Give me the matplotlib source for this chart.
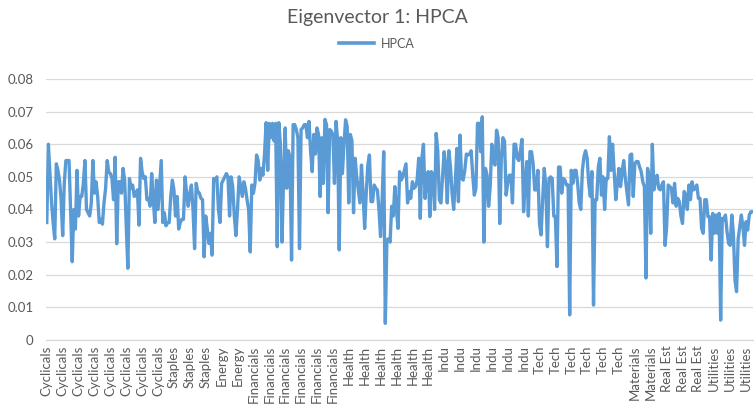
import matplotlib
matplotlib.use("Agg")
import matplotlib.pyplot as plt
from matplotlib.lines import Line2D

plt.rcParams['font.family'] = ['Lato', 'DejaVu Sans']

title = "Eigenvector 1: HPCA"
series_name = "HPCA"

# tick labels shown at every 10th point
tick_labels = (["Cyclicals"] * 8 + ["Staples"] * 3 + ["Energy"] * 2 +
               ["Financials"] * 6 + ["Health"] * 6 + ["Indu"] * 6 +
               ["Tech"] * 6 + ["Materials"] * 2 + ["Real Est"] * 3 +
               ["Utilities"] * 3)
label_step = 10

hpca = [
    # 0-9
    0.036, 0.060, 0.051, 0.042, 0.036, 0.031, 0.054, 0.052, 0.049, 0.043,
    # 10-19
    0.032, 0.048, 0.055, 0.055, 0.055, 0.040, 0.024, 0.040, 0.034, 0.052,
    # 20-29
    0.038, 0.044, 0.044, 0.048, 0.055, 0.040, 0.039, 0.038, 0.042, 0.055,
    # 30-39
    0.045, 0.0485, 0.044, 0.036, 0.037, 0.0355, 0.042, 0.0465, 0.055, 0.0515,
    # 40-49
    0.051, 0.0495, 0.043, 0.056, 0.0295, 0.0485, 0.0485, 0.045, 0.0526, 0.049,
    # 50-59
    0.035, 0.022, 0.0495, 0.0465, 0.0475, 0.044, 0.0444, 0.046, 0.0352, 0.0557,
    # 60-69
    0.0515, 0.0495, 0.050, 0.043, 0.0434, 0.041, 0.051, 0.043, 0.036, 0.049,
    # 70-79
    0.040, 0.0475, 0.055, 0.036, 0.039, 0.035, 0.036, 0.036, 0.044, 0.049,
    # 80-89
    0.046, 0.038, 0.044, 0.034, 0.036, 0.037, 0.037, 0.050, 0.045, 0.041,
    # 90-99
    0.045, 0.0475, 0.040, 0.028, 0.048, 0.0455, 0.045, 0.0434, 0.043, 0.0255,
    # 100-109
    0.038, 0.034, 0.0296, 0.0327, 0.026, 0.0495, 0.049, 0.050, 0.040, 0.036,
    # 110-119
    0.048, 0.049, 0.050, 0.051, 0.050, 0.038, 0.050, 0.047, 0.038, 0.032,
    # 120-129
    0.040, 0.050, 0.047, 0.044, 0.0485, 0.0465, 0.043, 0.040, 0.027, 0.0475,
    # 130-139
    0.045, 0.048, 0.0567, 0.055, 0.049, 0.0526, 0.0505, 0.057, 0.0666, 0.052,
    # 140-149
    0.0664, 0.062, 0.0664, 0.061, 0.0664, 0.0286, 0.0666, 0.060, 0.030, 0.050,
    # 150-159
    0.065, 0.0465, 0.058, 0.056, 0.0245, 0.066, 0.066, 0.0645, 0.062, 0.028,
    # 160-169
    0.0645, 0.065, 0.066, 0.066, 0.062, 0.067, 0.0577, 0.0516, 0.063, 0.057,
    # 170-179
    0.065, 0.063, 0.044, 0.062, 0.048, 0.0676, 0.066, 0.039, 0.0645, 0.064,
    # 180-189
    0.063, 0.048, 0.067, 0.061, 0.0276, 0.062, 0.051, 0.060, 0.0675, 0.0654,
    # 190-199
    0.042, 0.063, 0.061, 0.039, 0.0557, 0.050, 0.046, 0.042, 0.0536, 0.045,
    # 200-209
    0.0342, 0.045, 0.0536, 0.0567, 0.0424, 0.0424, 0.0475, 0.0465, 0.046, 0.040,
    # 210-219
    0.0317, 0.043, 0.0577, 0.0051, 0.0306, 0.031, 0.030, 0.041, 0.038, 0.047,
    # 220-229
    0.040, 0.0342, 0.0516, 0.049, 0.050, 0.052, 0.054, 0.042, 0.0455, 0.0434,
    # 230-239
    0.0485, 0.0465, 0.047, 0.049, 0.0557, 0.0373, 0.0557, 0.060, 0.0434, 0.0505,
    # 240-249
    0.0516, 0.0378, 0.0516, 0.0505, 0.040, 0.0633, 0.058, 0.043, 0.042, 0.050,
    # 250-259
    0.0577, 0.0536, 0.042, 0.058, 0.053, 0.045, 0.040, 0.048, 0.0587, 0.0424,
    # 260-269
    0.0628, 0.0495, 0.049, 0.052, 0.057, 0.0567, 0.057, 0.058, 0.0505, 0.0444,
    # 270-279
    0.0465, 0.0664, 0.0664, 0.0577, 0.0684, 0.030, 0.0526, 0.0505, 0.041, 0.047,
    # 280-289
    0.060, 0.0547, 0.0536, 0.0643, 0.062, 0.0357, 0.0557, 0.062, 0.061, 0.0444,
    # 290-299
    0.048, 0.0505, 0.0505, 0.042, 0.060, 0.060, 0.0557, 0.055, 0.058, 0.0615,
    # 300-309
    0.0393, 0.048, 0.0547, 0.038, 0.0577, 0.0577, 0.054, 0.046, 0.046, 0.052,
    # 310-319
    0.0357, 0.0322, 0.043, 0.0526, 0.047, 0.0286, 0.0495, 0.050, 0.0495, 0.038,
    # 320-329
    0.0378, 0.0225, 0.053, 0.053, 0.045, 0.0495, 0.049, 0.0475, 0.0475, 0.0077,
    # 330-339
    0.052, 0.048, 0.052, 0.052, 0.048, 0.042, 0.040, 0.052, 0.0562, 0.058,
    # 340-349
    0.0557, 0.048, 0.044, 0.0516, 0.0107, 0.043, 0.043, 0.053, 0.0557, 0.0444,
    # 350-359
    0.050, 0.040, 0.0495, 0.0495, 0.0623, 0.052, 0.060, 0.0516, 0.043, 0.048,
    # 360-369
    0.0526, 0.047, 0.0516, 0.055, 0.0495, 0.0455, 0.0414, 0.0567, 0.057, 0.044,
    # 370-379
    0.054, 0.0547, 0.0547, 0.053, 0.0516, 0.0485, 0.047, 0.019, 0.0526, 0.050,
    # 380-389
    0.0327, 0.060, 0.046, 0.049, 0.0505, 0.0465, 0.046, 0.0475, 0.0485, 0.029,
    # 390-399
    0.0347, 0.0475, 0.047, 0.0465, 0.042, 0.048, 0.041, 0.0434, 0.0424, 0.038,
    # 400-409
    0.0357, 0.0455, 0.0444, 0.040, 0.0475, 0.043, 0.0485, 0.046, 0.0465, 0.0475,
    # 410-419
    0.0434, 0.0434, 0.0342, 0.0327, 0.043, 0.043, 0.0378, 0.0378, 0.0245, 0.0388,
    # 420-429
    0.0327, 0.0383, 0.0327, 0.0388, 0.0061, 0.0373, 0.0368, 0.0383, 0.0332, 0.0296,
    # 430-439
    0.029, 0.0383, 0.0327, 0.0184, 0.0148, 0.031, 0.0347, 0.0383, 0.0347, 0.029,
    # 440-444
    0.0363, 0.0337, 0.0383, 0.0393, 0.0393,
]

y_ticks = [0, 0.01, 0.02, 0.03, 0.04, 0.05, 0.06, 0.07, 0.08]
y_tick_labels = ["0", "0.01", "0.02", "0.03", "0.04", "0.05", "0.06", "0.07", "0.08"]

line_color = "#5B9BD5"
text_color = "#595959"
grid_color = "#D9D9D9"

fig = plt.figure(figsize=(7.54, 4.05), dpi=100)
ax = fig.add_axes([0.061, 0.1605, 0.938, 0.6445])

x = list(range(len(hpca)))
ax.plot(x, hpca, color=line_color, linewidth=2.4, solid_joinstyle='round', zorder=3)

ax.set_xlim(-0.5, len(hpca) - 0.5)
ax.set_ylim(0, 0.08)
ax.set_yticks(y_ticks)
ax.set_yticklabels(y_tick_labels)
tick_pos = [i * label_step for i in range(len(tick_labels))]
ax.set_xticks(tick_pos)
ax.set_xticklabels(tick_labels, rotation=90)

ax.grid(axis='y', color=grid_color, linewidth=0.9, zorder=0)
ax.set_axisbelow(True)
for s in ['top', 'right', 'left']:
    ax.spines[s].set_visible(False)
ax.spines['bottom'].set_color(grid_color)
ax.spines['bottom'].set_linewidth(0.9)
ax.tick_params(axis='y', length=0, pad=9, labelsize=9.5, labelcolor=text_color)
ax.tick_params(axis='x', length=0, pad=4, labelsize=9.5, labelcolor=text_color)

fig.text(0.5, 0.957, title, ha='center', va='center', fontsize=14, color=text_color)
handle = Line2D([], [], color=line_color, linewidth=2.6)
fig.legend([handle], [series_name], loc='center', bbox_to_anchor=(0.5, 0.892),
           frameon=False, fontsize=9, labelcolor=text_color, handlelength=2.8,
           handletextpad=0.6)

fig.savefig("out.png", dpi=100)
